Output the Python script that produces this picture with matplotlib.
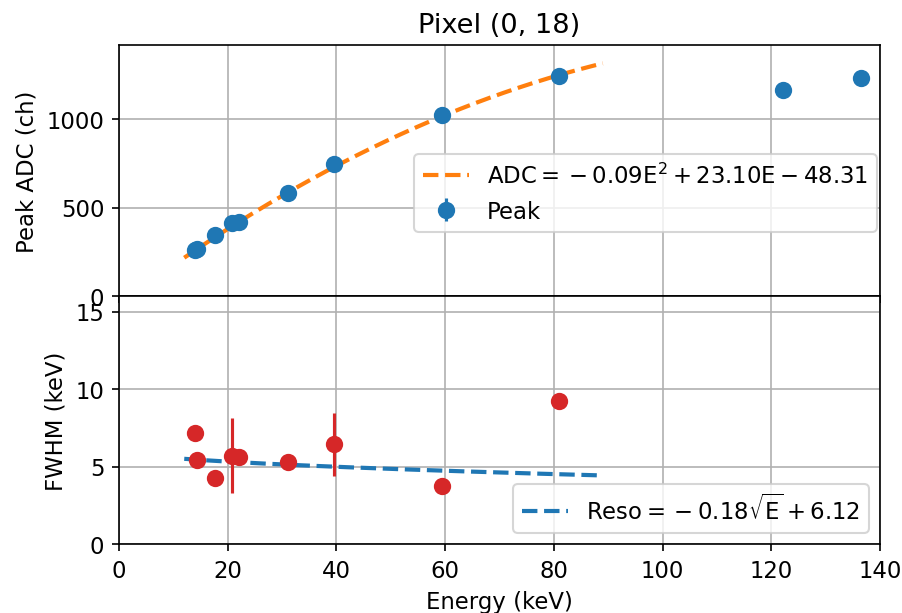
import numpy as np
import matplotlib
matplotlib.use("Agg")
import matplotlib.pyplot as plt

# Calibration lines (keV) and fitted peak positions (ADC channels)
energy = [13.9, 14.4, 17.7, 20.8, 22.1, 31.0, 39.5, 59.5, 81.0, 122.1, 136.5]
peak_adc = [260, 265, 345, 412, 420, 582, 746, 1023, 1245, 1165, 1230]
peak_err = [8, 8, 8, 8, 8, 8, 8, 8, 8, 8, 8]

# Energy resolution (FWHM, keV) for the lines below 90 keV
fwhm_energy = [13.9, 14.4, 17.7, 20.8, 22.1, 31.0, 39.5, 59.5, 81.0]
fwhm = [7.16, 5.42, 4.26, 5.70, 5.63, 5.27, 6.43, 3.74, 9.2]
fwhm_err = [0.45, 0.3, 0.3, 2.43, 0.3, 0.3, 2.03, 0.25, 0.5]

# Fit coefficients
adc_coef = [-0.0875, 23.10, -48.31]   # a*E^2 + b*E + c
reso_coef = [-0.18, 6.12]             # a*sqrt(E) + b
fit_range = [12.0, 89.0]

plt.rcParams["font.size"] = 10.9
plt.rcParams["axes.titlesize"] = 13.1

fig = plt.figure(figsize=(6.02, 4.093), dpi=150)
ax1 = fig.add_axes([0.1318, 0.5163, 0.8427, 0.4088])
ax2 = fig.add_axes([0.1318, 0.1124, 0.8427, 0.4039], sharex=ax1)

e_fit = np.linspace(fit_range[0], fit_range[1], 200)
adc_fit = np.polyval(adc_coef, e_fit)
adc_label = (r"$\mathrm{ADC} = {} - %.2f\mathrm{E}^2 + %.2f\mathrm{E} - %.2f$"
             % (-adc_coef[0], adc_coef[1], -adc_coef[2]))
ax1.plot(e_fit, adc_fit, "--", color="tab:orange", lw=2, label=adc_label)
ax1.errorbar(energy, peak_adc, yerr=peak_err, fmt="o", color="tab:blue",
             ms=7.3, lw=1.5, label="Peak")
ax1.set_ylim(0, 1418)
ax1.set_yticks([0, 500, 1000])
ax1.set_ylabel("Peak ADC (ch)")
ax1.set_title("Pixel (0, 18)")
ax1.grid(True)
ax1.tick_params(labelbottom=False)
ax1.legend(loc="upper right", bbox_to_anchor=(0.996, 0.566),
           borderaxespad=0)

reso_fit = reso_coef[0] * np.sqrt(e_fit) + reso_coef[1]
reso_label = (r"$\mathrm{Reso} = {} - %.2f\sqrt{\mathrm{E}} + %.2f$"
              % (-reso_coef[0], reso_coef[1]))
ax2.plot(e_fit, reso_fit, "--", color="tab:blue", lw=2, label=reso_label)
ax2.errorbar(fwhm_energy, fwhm, yerr=fwhm_err, fmt="o", color="tab:red",
             ms=7.3, lw=1.5)
ax2.set_ylim(0, 16)
ax2.set_yticks([0, 5, 10, 15])
ax2.set_xlim(0, 140)
ax2.set_ylabel("FWHM (keV)")
ax2.set_xlabel("Energy (keV)")
ax2.grid(True)
ax2.legend(loc="lower right")

fig.savefig("out.png", dpi=150)
